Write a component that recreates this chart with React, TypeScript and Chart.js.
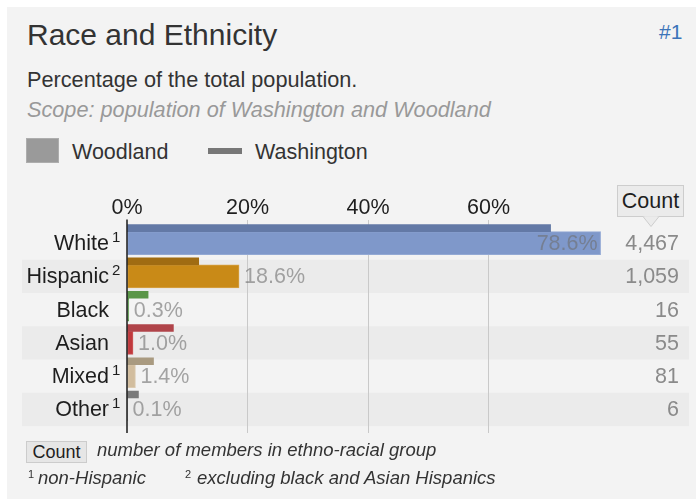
import React, { useEffect, useRef } from 'react';
import { Chart, registerables } from 'chart.js';

Chart.register(...registerables);

const categories = ['White', 'Hispanic', 'Black', 'Asian', 'Mixed', 'Other'];
const superscripts = ['1', '2', '', '', '1', '1'];
const woodland = [78.6, 18.6, 0.3, 1.0, 1.4, 0.1];
const washington = [70.3, 11.9, 3.5, 7.7, 4.4, 1.9];
const counts = [4467, 1059, 16, 55, 81, 6];
const xTicks = [0, 20, 40, 60];

const woodlandColors = ['#7f98ca', '#c98a17', '#3f8a2e', '#c0393d', '#d2bd9e', '#8a8a8a'];
const woodlandBorders = ['#93a9d4', '#d6a247', '#5c9c4c', '#cc5a5d', '#dccbb1', '#9a9a9a'];
const washingtonColors = ['#6379a6', '#a06c12', '#5a9648', '#b0444a', '#a99a80', '#7a7a7a'];

const FONT = '"Liberation Sans", Arial, Helvetica, sans-serif';
const FS = 21.5;

const text = (
  left: number,
  top: number,
  size: number,
  content: string,
  extra: React.CSSProperties = {}
) => (
  <div
    style={{
      position: 'absolute',
      left,
      top,
      fontSize: size,
      lineHeight: `${size}px`,
      whiteSpace: 'nowrap',
      fontFamily: FONT,
      color: '#333',
      ...extra,
    }}
  >
    {content}
  </div>
);

export default function App() {
  const ref = useRef<HTMLCanvasElement>(null);

  useEffect(() => {
    const canvas = ref.current;
    if (!canvas) return;
    const overlay = {
      id: 'overlay',
      beforeDraw(chart: any) {
        const { ctx, scales } = chart;
        const y = scales.y;
        ctx.save();
        ctx.fillStyle = '#ebebeb';
        categories.forEach((_, i) => {
          if (i % 2 === 1) {
            const top = y.getPixelForValue(i - 0.5);
            const bot = y.getPixelForValue(i + 0.5);
            ctx.fillRect(22, top, 689 - 22, bot - top);
          }
        });
        ctx.restore();
      },
      afterDatasetsDraw(chart: any) {
        const { ctx, chartArea, scales } = chart;
        const x = scales.x;
        const y = scales.y;
        ctx.save();
        const x0 = x.getPixelForValue(0);
        ctx.strokeStyle = '#1a1a1a';
        ctx.lineWidth = 1.5;
        ctx.beginPath();
        ctx.moveTo(x0, chartArea.top);
        ctx.lineTo(x0, chartArea.bottom);
        ctx.stroke();

        const labelRight = chartArea.left - 18;
        const countRight = 679;
        const countLeft = 605;
        categories.forEach((c, i) => {
          const yc = y.getPixelForValue(i);
          ctx.textBaseline = 'alphabetic';
          ctx.font = `${FS}px ${FONT}`;
          ctx.fillStyle = '#1e1e1e';
          ctx.textAlign = 'right';
          ctx.fillText(c, labelRight, yc + 7);
          if (superscripts[i]) {
            ctx.font = `15px ${FONT}`;
            ctx.textAlign = 'left';
            ctx.fillText(superscripts[i], labelRight + 3, yc - 1);
          }
          ctx.font = `${FS}px ${FONT}`;
          const label = woodland[i].toFixed(1) + '%';
          const end = x.getPixelForValue(woodland[i]);
          const w = ctx.measureText(label).width;
          ctx.fillStyle = 'rgba(110,110,110,0.6)';
          if (end + 5 + w > countLeft) {
            ctx.textAlign = 'right';
            ctx.fillText(label, end - 3, yc + 7);
          } else {
            ctx.textAlign = 'left';
            ctx.fillText(label, end + 5, yc + 7);
          }
          ctx.textAlign = 'right';
          ctx.fillStyle = '#8a8a8a';
          ctx.fillText(counts[i].toLocaleString('en-US'), countRight, yc + 7);
        });
        ctx.restore();
      },
    };

    const chart = new Chart(canvas, {
      type: 'bar',
      data: {
        datasets: [
          {
            label: 'Washington',
            data: washington.map((v, i) => ({ x: v, y: i })),
            yAxisID: 'y2',
            backgroundColor: washingtonColors,
            borderWidth: 0,
            barThickness: 7,
            grouped: false,
          } as any,
          {
            label: 'Woodland',
            data: woodland.map((v, i) => ({ x: v, y: i })),
            yAxisID: 'y',
            backgroundColor: woodlandColors,
            borderColor: woodlandBorders,
            borderWidth: 1,
            borderSkipped: false,
            barThickness: 23,
            grouped: false,
          } as any,
        ],
      },
      options: {
        indexAxis: 'y',
        responsive: false,
        animation: false,
        events: [],
        layout: { padding: { left: 127, right: 26.7, top: 196, bottom: 66 } },
        plugins: { legend: { display: false }, tooltip: { enabled: false } },
        scales: {
          x: {
            type: 'linear',
            position: 'top',
            min: 0,
            max: 90,
            border: { display: false },
            grid: {
              drawTicks: false,
              lineWidth: 1,
              color: (c: any) =>
                c.tick && c.tick.value > 0 && xTicks.includes(c.tick.value)
                  ? '#c9c9c9'
                  : 'rgba(0,0,0,0)',
            },
            ticks: {
              stepSize: 20,
              padding: 1,
              color: '#1e1e1e',
              font: { family: FONT, size: FS, lineHeight: 1 },
              callback: (v: any) => (xTicks.includes(v) ? `${v}%` : ''),
            },
          },
          y: { type: 'linear', offset: false, min: -0.709, max: 5.709, reverse: true, display: false },
          y2: { type: 'linear', offset: false, min: -0.261, max: 6.157, reverse: true, display: false },
        },
      } as any,
      plugins: [overlay],
    });
    return () => chart.destroy();
  }, []);

  return (
    <div style={{ position: 'absolute', left: 0, top: 0, width: 696, height: 499, background: '#fff', overflow: 'hidden' }}>
      <div style={{ position: 'absolute', left: 7, top: 7, width: 689, height: 492, background: '#f3f3f3' }} />
      {text(27, 20, 30, 'Race and Ethnicity')}
      {text(659, 20.5, 21, '#1', { color: '#3b74b9' })}
      {text(27, 69, 21.7, 'Percentage of the total population.')}
      {text(27, 99, 21.7, 'Scope: population of Washington and Woodland', { fontStyle: 'italic', color: '#999' })}
      <div style={{ position: 'absolute', left: 26, top: 138, width: 33, height: 25, boxSizing: 'border-box', background: '#9a9a9a', border: '1px solid #adadad' }} />
      {text(72, 142, 21.5, 'Woodland')}
      <div style={{ position: 'absolute', left: 208, top: 148, width: 34, height: 6, background: '#777' }} />
      {text(255, 142, 21.5, 'Washington')}
      <div
        style={{
          position: 'absolute', left: 617, top: 185, width: 67, height: 32, boxSizing: 'border-box',
          background: '#ebebeb', border: '1px solid #cdcdcd', fontFamily: FONT, fontSize: 21.5,
          lineHeight: '30px', textAlign: 'center', color: '#1e1e1e',
        }}
      >
        Count
      </div>
      <svg style={{ position: 'absolute', left: 643, top: 215 }} width={16} height={13}>
        <path d="M0,1.5 L8,11.5 L16,1.5" fill="#ebebeb" stroke="#cdcdcd" strokeWidth={1} />
        <rect x={1.5} y={0} width={13} height={1.6} fill="#ebebeb" />
      </svg>
      <canvas ref={ref} width={696} height={499} style={{ position: 'absolute', left: 0, top: 0 }} />
      <div
        style={{
          position: 'absolute', left: 26, top: 441, width: 61, height: 22, boxSizing: 'border-box',
          background: '#e6e6e6', border: '1px solid #cccccc', fontFamily: FONT, fontSize: 18,
          lineHeight: '20px', textAlign: 'center', color: '#1e1e1e',
        }}
      >
        Count
      </div>
      {text(97, 441, 18.5, 'number of members in ethno-racial group', { fontStyle: 'italic' })}
      {text(28, 469, 11, '1')}
      {text(38, 469.3, 18.5, 'non-Hispanic', { fontStyle: 'italic' })}
      {text(185, 469, 11, '2')}
      {text(197, 469.3, 18.5, 'excluding black and Asian Hispanics', { fontStyle: 'italic' })}
    </div>
  );
}
